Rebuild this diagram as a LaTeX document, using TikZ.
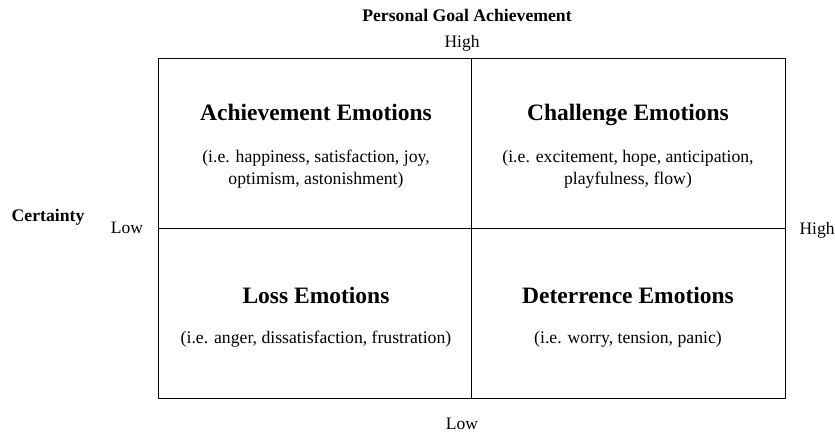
\documentclass[tikz,border=0pt]{standalone}
\usepackage{fontspec}
\setmainfont{Liberation Serif}
\tikzset{
  heading/.style={font=\fontsize{23.5}{26}\selectfont\bfseries, anchor=base},
  examples/.style={font=\fontsize{17.7}{22}\selectfont, align=center},
  axislabel/.style={font=\fontsize{17.5}{20}\selectfont},
  axistitle/.style={font=\fontsize{17.7}{20}\selectfont\bfseries}
}
\begin{document}
\begin{tikzpicture}[x=1pt, y=-1pt]
        \useasboundingbox (0,0) rectangle (835,436);

        % Quadrant frame
        \draw[thin] (158,58) rectangle (785,398);
        \draw[thin] (471,58) -- (471,398);
        \draw[thin] (158,228) -- (785,228);

        % Axis labels
        \node[axistitle] (goal) at (467,15) {Personal Goal Achievement};
        \node[axislabel] (goalhigh) at (462,43) {High};
        \node[axislabel] (goallow) at (462,424) {Low};
        \node[axistitle] (cert) at (48,217) {Certainty};
        \node[axislabel] (certlow) at (127,228) {Low};
        \node[axislabel] (certhigh) at (817,230) {High};

        % Quadrant texts
        \node[heading] (achieve) at (316,120) {Achievement Emotions};
        \node[examples] (achieveex) at (316,169) {(i.e. happiness, satisfaction, joy,\\optimism, astonishment)};
        \node[heading] (challenge) at (628,120) {Challenge Emotions};
        \node[examples] (challengeex) at (628,169) {(i.e. excitement, hope, anticipation,\\playfulness, flow)};
        \node[heading] (loss) at (316,303) {Loss Emotions};
        \node[examples] (lossex) at (316,339) {(i.e. anger, dissatisfaction, frustration)};
        \node[heading] (deter) at (628,303) {Deterrence Emotions};
        \node[examples] (deterex) at (628,339) {(i.e. worry, tension, panic)};
\end{tikzpicture}
\end{document}
